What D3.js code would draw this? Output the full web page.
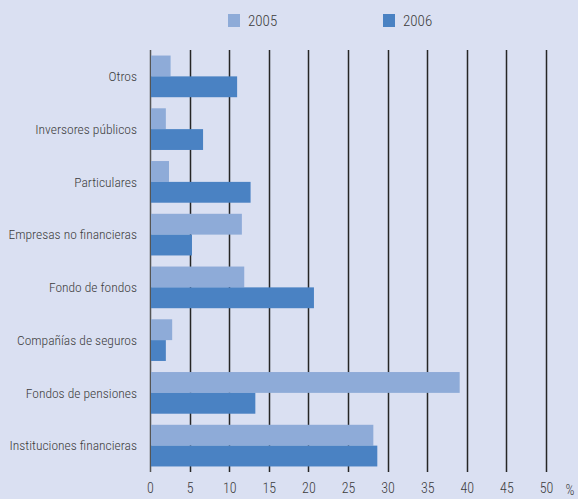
<!DOCTYPE html>
<html><head><meta charset="utf-8">
<script src="https://cdn.jsdelivr.net/npm/d3@7"></script>
<style>
html,body{margin:0;padding:0;background:#dae0f2;}
svg{display:block;}
text{font-family:"Liberation Sans Narrow","Roboto Condensed","Liberation Sans",sans-serif;fill:#3c3c3c;font-weight:300;}
</style></head>
<body>
<script>
const categories = ["Otros","Inversores públicos","Particulares","Empresas no financieras","Fondo de fondos","Compañías de seguros","Fondos de pensiones","Instituciones financieras"];
const series = ["2005","2006"];
const values2005 = [2.6, 2.0, 2.4, 11.6, 11.9, 2.8, 39.1, 28.2];
const values2006 = [11.0, 6.7, 12.7, 5.3, 20.7, 2.0, 13.3, 28.7];
const tickValues = [0,5,10,15,20,25,30,35,40,45,50];
const colors = ["#8eabd8","#4a82c3"];

const W = 578, H = 499;
const svg = d3.select("body").append("svg").attr("width", W).attr("height", H);
svg.append("rect").attr("width", W).attr("height", H).attr("fill", "#dae0f2");

const x = d3.scaleLinear().domain([0, 50]).range([150, 546]);
const y = d3.scaleBand().domain(categories).range([50, 472]).paddingInner(0.21).paddingOuter(0.105);
const ys = d3.scaleBand().domain(series).range([0, y.bandwidth()]);

// gridlines
svg.append("g").selectAll("line").data(tickValues).join("line")
  .attr("x1", d => Math.round(x(d)) + 0.5).attr("x2", d => Math.round(x(d)) + 0.5)
  .attr("y1", 50).attr("y2", 472)
  .attr("stroke", d => d === 0 ? "#555" : "#262626").attr("stroke-width", 1.5);

// bars
const data = categories.map((c, i) => ({c, vals: [values2005[i], values2006[i]]}));
const g = svg.append("g").selectAll("g").data(data).join("g")
  .attr("transform", d => `translate(0,${y(d.c)})`);
g.selectAll("rect").data(d => d.vals.map((v, j) => ({v, s: series[j], j}))).join("rect")
  .attr("x", x(0) + 1).attr("y", d => ys(d.s))
  .attr("width", d => x(d.v) - x(0) - 1).attr("height", ys.bandwidth())
  .attr("fill", d => colors[d.j]);

// category labels
svg.append("g").selectAll("text").data(categories).join("text")
  .attr("x", 137).attr("y", d => y(d) + y.bandwidth() / 2)
  .attr("dy", "0.35em").attr("text-anchor", "end")
  .style("font-size", "13.5px").text(d => d);

// x axis labels
const xAxis = d3.axisBottom(x).tickValues(tickValues).tickSize(0).tickPadding(0).tickFormat(d3.format("d"));
const ax = svg.append("g").attr("transform", "translate(0,483)").call(xAxis);
ax.select(".domain").remove();
ax.selectAll("text").attr("fill", "#3c3c3c").style("font-size", "14px")
  .style("font-family", '"Liberation Sans Narrow","Roboto Condensed","Liberation Sans",sans-serif').style("font-weight", 300);
svg.append("text").attr("x", 570).attr("y", 495).attr("text-anchor", "middle")
  .style("font-size", "14px").text("%");

// legend
const leg = svg.append("g").selectAll("g").data(series).join("g")
  .attr("transform", (d, i) => `translate(${[228, 383][i]},14)`);
leg.append("rect").attr("width", 12).attr("height", 13).attr("fill", (d, i) => colors[i]);
leg.append("text").attr("x", 20).attr("y", 6.5).attr("dy", "0.35em")
  .style("font-size", "15px").text(d => d);
</script>
</body></html>
